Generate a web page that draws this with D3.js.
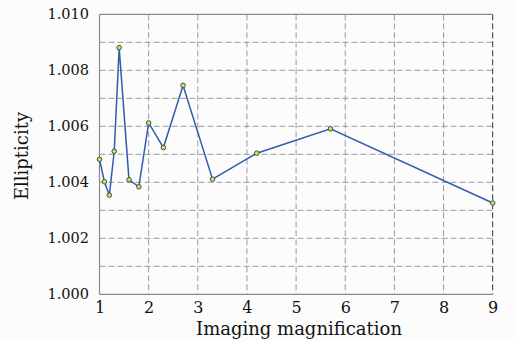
<!DOCTYPE html>
<html><head><meta charset="utf-8">
<script src="https://cdn.jsdelivr.net/npm/d3@7/dist/d3.min.js"></script>
<style>
html,body{margin:0;padding:0;background:#fcfcfc;}
svg{display:block;}
text{font-family:"DejaVu Serif",serif;fill:#111;}
</style></head><body>
<script>
const magnification = [1.0, 1.1, 1.2, 1.3, 1.4, 1.6, 1.8, 2.0, 2.3, 2.7, 3.3, 4.2, 5.7, 9.0];
const ellipticity = [1.00482, 1.00402, 1.00354, 1.00511, 1.00881, 1.00409, 1.00384, 1.00612, 1.00524, 1.00746, 1.00411, 1.00504, 1.00591, 1.00326];
const xTicks = [1, 2, 3, 4, 5, 6, 7, 8, 9];
const yTicks = [1.000, 1.002, 1.004, 1.006, 1.008, 1.010];
const yGrid = [1.001, 1.002, 1.003, 1.004, 1.005, 1.006, 1.007, 1.008, 1.009];
const xLabel = "Imaging magnification";
const yLabel = "Ellipticity";

const W = 514, H = 341;
const svg = d3.select("body").append("svg").attr("width", W).attr("height", H);
const x = d3.scaleLinear().domain([1, 9]).range([99.5, 492.7]);
const y = d3.scaleLinear().domain([1.000, 1.010]).range([294.3, 14.3]);

const grid = svg.append("g").attr("stroke", "#9a9a9a").attr("stroke-width", 1).attr("stroke-dasharray", "6,3");
grid.selectAll(".gx").data(xTicks.filter(d => d > 1 && d < 9)).join("line")
  .attr("x1", d => x(d)).attr("x2", d => x(d)).attr("y1", y(1.010)).attr("y2", y(1.000));
grid.selectAll(".gy").data(yGrid).join("line")
  .attr("x1", x(1)).attr("x2", x(9)).attr("y1", d => y(d)).attr("y2", d => y(d));
// right border dashed darker
svg.append("line").attr("x1", x(9)).attr("x2", x(9)).attr("y1", y(1.010)).attr("y2", y(1.000))
  .attr("stroke", "#333").attr("stroke-dasharray", "6,3");
// solid frame: left, bottom, top
const frame = svg.append("g").attr("stroke", "#8a8a8a").attr("stroke-width", 1.2);
frame.append("line").attr("x1", x(1)).attr("x2", x(1)).attr("y1", y(1.010)).attr("y2", y(1.000));
frame.append("line").attr("x1", x(1)).attr("x2", x(9)).attr("y1", y(1.000)).attr("y2", y(1.000));
frame.append("line").attr("x1", x(1)).attr("x2", x(9)).attr("y1", y(1.010)).attr("y2", y(1.010));

// axes (labels only)
const xAxis = d3.axisBottom(x).tickValues(xTicks).tickFormat(d3.format("d")).tickSize(0).tickPadding(7);
const gx = svg.append("g").attr("transform", `translate(0,${y(1.000)})`).call(xAxis);
gx.select(".domain").remove();
gx.selectAll("text").style("font-family", '"DejaVu Serif",serif').style("font-size", "16px").attr("fill", "#111");

const yAxis = d3.axisLeft(y).tickValues(yTicks).tickFormat(d3.format(".3f")).tickSize(0).tickPadding(12);
const gy = svg.append("g").attr("transform", `translate(${x(1)+1.5},0)`).call(yAxis);
gy.select(".domain").remove();
gy.selectAll("text").style("font-family", '"DejaVu Serif",serif').style("font-size", "14.5px").attr("fill", "#111");

// line
const pts = magnification.map((m, i) => [m, ellipticity[i]]);
svg.append("path").datum(pts)
  .attr("fill", "none").attr("stroke", "#2f5eaa").attr("stroke-width", 1.5)
  .attr("d", d3.line().x(d => x(d[0])).y(d => y(d[1])));
svg.selectAll(".pt").data(pts).join("circle")
  .attr("cx", d => x(d[0])).attr("cy", d => y(d[1])).attr("r", 2.3)
  .attr("fill", "#e6e21a").attr("stroke", "#2a4f8f").attr("stroke-width", 1);

// titles
svg.append("text").attr("x", 299).attr("y", 335).attr("text-anchor", "middle")
  .style("font-size", "18px").text(xLabel);
svg.append("text").attr("transform", "translate(28,156) rotate(-90)").attr("text-anchor", "middle")
  .style("font-size", "18px").text(yLabel);
</script>
</body></html>
